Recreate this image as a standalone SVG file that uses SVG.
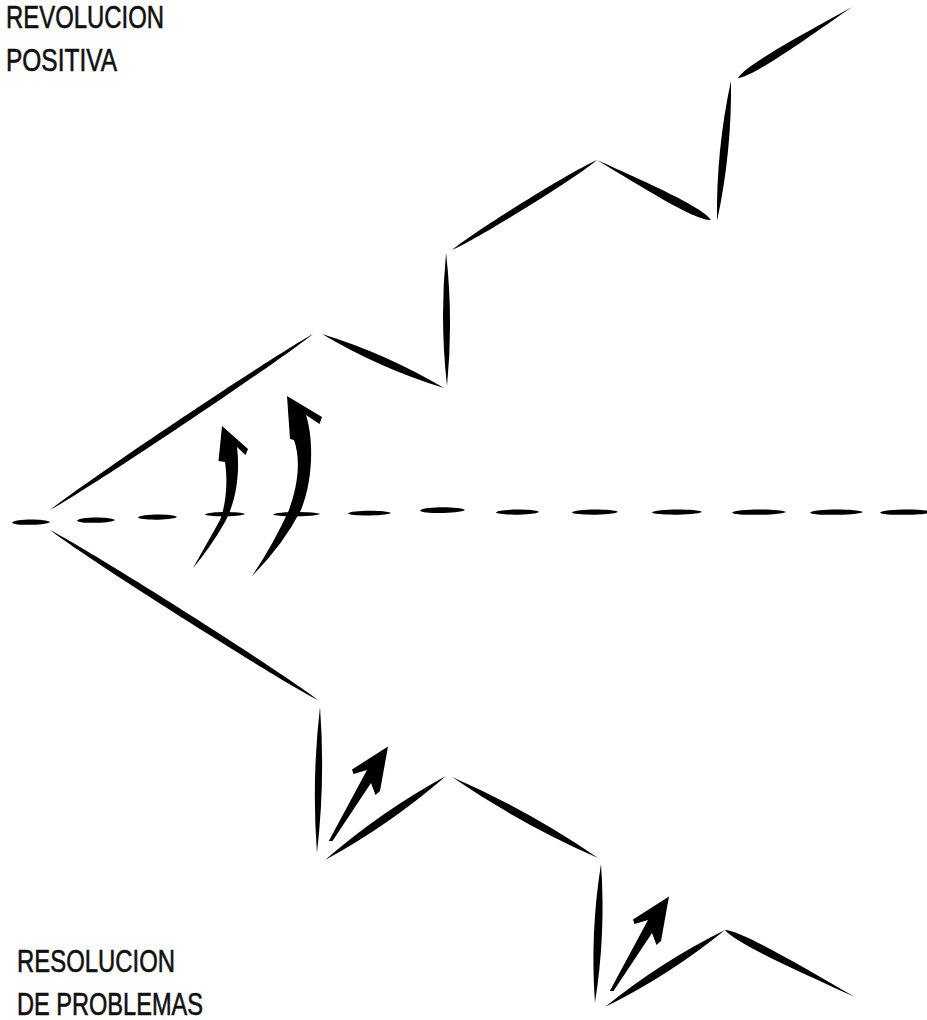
<svg xmlns="http://www.w3.org/2000/svg" xmlns:xlink="http://www.w3.org/1999/xlink" width="927" height="1020" viewBox="0 0 927 1020">
  <style>
    .lbl { font-family: "Liberation Sans Narrow", "Liberation Sans", "Arial Narrow", Arial, sans-serif; font-size: 31px; fill: #111; stroke: #111; stroke-width: 0.6px; }
    .ink { fill: #000; }
  </style>
  <defs>
    <path id="lens" d="M0,0 Q0.5,-2 1,0 Q0.5,2 0,0Z"/>
    <path id="brush" d="M0,0 C0.15,-1.3 0.85,-1.3 1,0 C0.85,1.3 0.15,1.3 0,0Z"/>
    <path id="dash" d="M0,0.2 C0.05,-1.1 0.9,-1.1 1,0 C0.9,1.1 0.05,1.2 0,0.2Z"/>
    <path id="taperEnd" d="M0,0 C0.4,-0.6 0.9,-1.6 1,0 C0.9,1.6 0.4,0.6 0,0Z"/>
    <path id="taperStart" d="M0,0 C0.1,-1.6 0.6,-0.6 1,0 C0.6,0.6 0.1,1.6 0,0Z"/>
    <path id="smallArrow" d="M388,746.5 L352,769.5 L353.5,774 L367,770 L328.8,841 L332.5,841 L371,783 L375.5,795 L380,791 Z"/>
  </defs>

  <rect width="927" height="1020" fill="#fff"/>

  <g id="label-revolucion">
    <text class="lbl" x="6" y="28" textLength="158" lengthAdjust="spacingAndGlyphs">REVOLUCION</text>
    <text class="lbl" x="6" y="71" textLength="111" lengthAdjust="spacingAndGlyphs">POSITIVA</text>
  </g>
  <g id="label-resolucion">
    <text class="lbl" x="17" y="972" textLength="158" lengthAdjust="spacingAndGlyphs">RESOLUCION</text>
    <text class="lbl" x="17" y="1015" textLength="186" lengthAdjust="spacingAndGlyphs">DE PROBLEMAS</text>
  </g>

  <g id="axis" class="ink">
    <use xlink:href="#dash" transform="translate(12 522) scale(38 3.2)"/>
    <use xlink:href="#dash" transform="translate(77 520) scale(38 3.2)"/>
    <use xlink:href="#dash" transform="translate(138 517) scale(39 3)"/>
    <use xlink:href="#dash" transform="translate(205 514) scale(40 2.6)"/>
    <use xlink:href="#dash" transform="translate(273 514) scale(47 2.6)"/>
    <use xlink:href="#dash" transform="translate(348 513) scale(43 2.8)"/>
    <use xlink:href="#dash" transform="translate(420 510) scale(45 3.4)"/>
    <use xlink:href="#dash" transform="translate(496 512) scale(43 3)"/>
    <use xlink:href="#dash" transform="translate(572 512) scale(46 3)"/>
    <use xlink:href="#dash" transform="translate(652 512) scale(50 3)"/>
    <use xlink:href="#dash" transform="translate(732 512) scale(54 3.2)"/>
    <use xlink:href="#dash" transform="translate(810 512) scale(53 3.2)"/>
    <use xlink:href="#dash" transform="translate(880 512) scale(52 3.2)"/>
  </g>

  <g id="upper-path" class="ink">
    <use xlink:href="#brush" transform="translate(50 510) rotate(-33.8) scale(316.5 3.2)"/>
    <use xlink:href="#lens" transform="translate(322 334) rotate(23.9) scale(133.4 4)"/>
    <use xlink:href="#lens" transform="translate(447 386) rotate(-90.4) scale(133 3.5)"/>
    <use xlink:href="#brush" transform="translate(452 250) rotate(-31.8) scale(170.7 3.2)"/>
    <use xlink:href="#taperEnd" transform="translate(597 160) rotate(27.8) scale(128.8 5)"/>
    <use xlink:href="#lens" transform="translate(717 221) rotate(-84.3) scale(141 4)"/>
    <use xlink:href="#taperStart" transform="translate(738 78) rotate(-31.9) scale(134.3 4.5)"/>
  </g>

  <g id="lower-path" class="ink">
    <use xlink:href="#brush" transform="translate(50 530) rotate(32.4) scale(317.4 3.4)"/>
    <use xlink:href="#lens" transform="translate(320 707) rotate(91.2) scale(146 3.5)"/>
    <use xlink:href="#lens" transform="translate(325 860) rotate(-34.8) scale(147.3 4)"/>
    <use xlink:href="#lens" transform="translate(452 777) rotate(29) scale(167 4)"/>
    <use xlink:href="#lens" transform="translate(601 864) rotate(92.5) scale(139 4)"/>
    <use xlink:href="#lens" transform="translate(605 1007) rotate(-32.7) scale(142.6 4)"/>
    <use xlink:href="#taperStart" transform="translate(725 930) rotate(27.3) scale(146.2 4.5)"/>
  </g>

  <g id="arrows" class="ink">
    <path id="arrow-a" d="M222,426 L248,449 L245.5,455 L237,447 C240,470 237,500 225,522 Q210,548 193,568 Q206,545 220,520 C226,505 228,482 225,462 L218.5,461 Z"/>
    <path id="arrow-b" d="M287,396 L322,417 L319.5,424 L306,415 C314,440 313,480 301,510 Q283,545 252,576 Q273,545 289,510 C298,485 301,460 294,440 L290,439 Z"/>
    <use id="arrow-c" xlink:href="#smallArrow"/>
    <use id="arrow-d" xlink:href="#smallArrow" transform="translate(281 150)"/>
  </g>
</svg>
